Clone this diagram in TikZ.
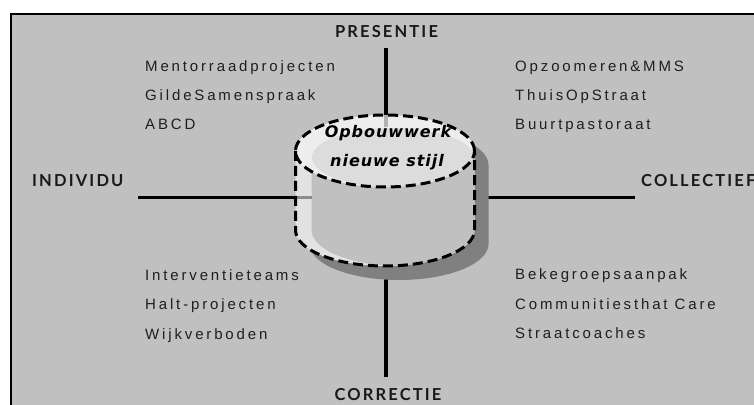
\documentclass[tikz,border=0pt]{standalone}
\usepackage{fontspec}
\setmainfont{Liberation Sans}
\newfontfamily\listfont{Liberation Sans}[LetterSpace=19]
\newfontfamily\headfont{Lato}[LetterSpace=13]
\newfontfamily\cylfont{DejaVu Sans}[LetterSpace=6]
\definecolor{bggray}{HTML}{C0C0C0}
\definecolor{shadowgray}{HTML}{808080}
\definecolor{lightstrip}{HTML}{E2E2E2}
\definecolor{topouter}{HTML}{EDEDED}
\definecolor{topinner}{HTML}{DCDCDC}
\newcommand\cylbody{(295.5,253) -- (295.5,174) arc[start angle=180,end angle=360,x radius=89.5pt,y radius=36pt] -- (474.5,253) arc[start angle=0,end angle=180,x radius=89.5pt,y radius=36pt] -- cycle}
\tikzset{
  axisline/.style={line width=3.2pt},
  dashline/.style={line width=3pt, dash pattern=on 10pt off 5pt},
  heading/.style={inner sep=0pt, font=\headfont\bfseries\fontsize{16.5}{18}\selectfont, text=black!90},
  item/.style={inner sep=0pt, anchor=base west, font=\listfont\fontsize{15}{17}\selectfont, text=black!88},
  cyltext/.style={inner sep=0pt, anchor=base, font=\cylfont\bfseries\itshape\fontsize{16}{18}\selectfont},
}
\begin{document}
\begin{tikzpicture}[x=1pt,y=1pt]
\useasboundingbox (0,0) rectangle (754,404);
\fill[white] (0,0) rectangle (754,404);
\filldraw[fill=bggray, draw=black, line width=2pt] (11,390) rectangle (780,-30);

% axis end points
\coordinate (topEnd) at (386,356);
\coordinate (topIn) at (386,289);
\coordinate (botEnd) at (386,27);
\coordinate (botIn) at (386,140);
\coordinate (leftEnd) at (138,206.3);
\coordinate (leftIn) at (295.5,206.3);
\coordinate (rightEnd) at (635,206.3);
\coordinate (rightIn) at (488,206.3);

\draw[axisline] (topEnd) -- (topIn);
\draw[axisline] (botEnd) -- (botIn);
\draw[axisline] (leftEnd) -- (leftIn);
\draw[axisline] (rightEnd) -- (rightIn);

% cylinder shadow
\fill[shadowgray, shift={(14,-14)}] \cylbody;
% cylinder body
\begin{scope}
  \clip \cylbody;
  \fill[lightstrip] (280,120) rectangle (500,300);
  \fill[bggray, shift={(16,0)}] \cylbody;
\end{scope}
% top face
\fill[topouter] (385,253) ellipse[x radius=89.5pt, y radius=36pt];
\begin{scope}
  \clip (385,253) ellipse[x radius=89.5pt, y radius=36pt];
  \fill[topinner] (393,246.5) ellipse[x radius=81pt, y radius=29.5pt];
\end{scope}
% lines seen through the cylinder
\draw[line width=3.2pt, color=black!45] (leftIn) -- ++(16,0);
\draw[line width=3.2pt, color=black!30] (topIn) -- ++(0,-12);
% dashed outline
\draw[dashline] (385,253) ellipse[x radius=89.5pt, y radius=36pt];
\draw[dashline] (295.5,253) -- (295.5,174) arc[start angle=180,end angle=360,x radius=89.5pt,y radius=36pt] -- (474.5,253);

\node[cyltext] (t1) at (388,266) {Opbouwwerk};
\node[cyltext] (t2) at (387,237) {nieuwe stijl};

% headings
\node[heading, anchor=base] (pres) at (386.5,366.7) {PRESENTIE};
\node[heading, anchor=base west] (indiv) at (32,217) {INDIVIDU};
\node[heading, anchor=base west] (coll) at (641,217) {COLLECTIEF};
\node[heading, anchor=base] (corr) at (388,4) {CORRECTIE};

% lists
\node[item] (a1) at (145,332) {Mentorraadprojecten};
\node[item] (a2) at (145,303) {GildeSamenspraak};
\node[item] (a3) at (145,274) {ABCD};
\node[item] (b1) at (515,332) {Opzoomeren\&MMS};
\node[item] (b2) at (515,303) {ThuisOpStraat};
\node[item] (b3) at (515,274) {Buurtpastoraat};
\node[item] (c1) at (145,123) {Interventieteams};
\node[item] (c2) at (145,94) {Halt-projecten};
\node[item] (c3) at (145,64) {Wijkverboden};
\node[item] (d1) at (515,124) {Bekegroepsaanpak};
\node[item] (d2) at (515,94) {Communitiesthat Care};
\node[item] (d3) at (515,65) {Straatcoaches};
\end{tikzpicture}
\end{document}
